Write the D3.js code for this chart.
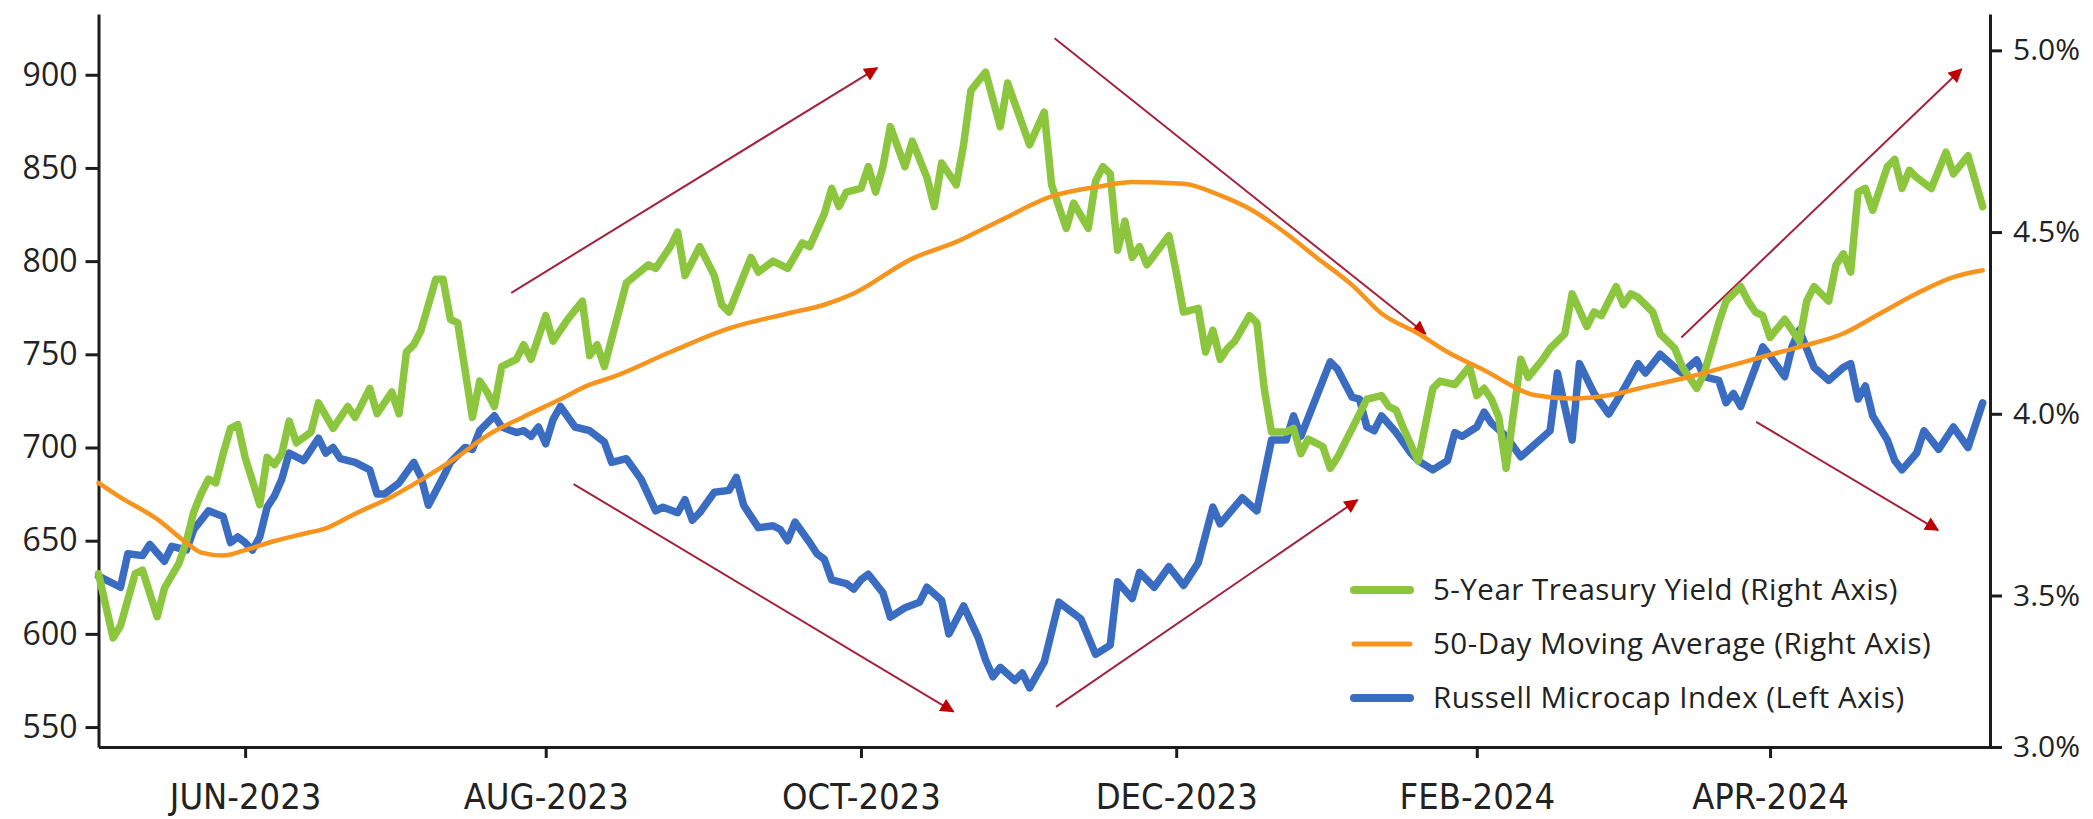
<!DOCTYPE html>
<html>
<head>
<meta charset="utf-8">
<script src="https://cdn.jsdelivr.net/npm/d3@7"></script>
<style>
  html, body { margin: 0; padding: 0; background: #ffffff; }
  svg { display: block; }
</style>
</head>
<body>
<svg id="chart" width="2093" height="819"></svg>
<script>
// ---- Axis ticks -------------------------------------------------------------
// x positions are trading-session numbers (session 0 = early May 2023)
const monthTickDays   = [20, 61, 104, 147, 188, 228];
const monthTickLabels = ["JUN-2023", "AUG-2023", "OCT-2023", "DEC-2023", "FEB-2024", "APR-2024"];
const indexTicks = [550, 600, 650, 700, 750, 800, 850, 900];
const yieldTicks = [3.0, 3.5, 4.0, 4.5, 5.0];

// ---- Series: [trading session, value] --------------------------------------
// Russell Microcap Index level (left axis)
const microcap = [
  [0,631],[3,625],[4,643],[6,642],[7,648],[9,639],[10,647],[12,645],[13,656],[15,666],
  [17,663],[18,649],[19,652],[20,649],[21,645],[22,652],[23,668],[24,674],[25,683],[26,697],
  [28,693],[29,699],[30,705],[31,697],[32,700],[33,694],[35,692],[37,688],[38,675],[39,675],
  [41,681],[43,692],[44,684],[45,669],[47,684],[48,692],[50,700],[51,699],[52,709],[54,717],
  [55,711],[57,708],[58,709],[59,706],[60,711],[61,702],[62,715],[63,722],[65,711],[67,709],
  [69,703],[70,692],[72,694],[74,683],[76,666],[77,668],[79,665],[80,672],[81,661],[82,665],
  [84,676],[86,677],[87,684],[88,669],[90,657],[92,658],[93,656],[94,650],[95,660],[97,649],
  [98,643],[99,640],[100,629],[102,627],[103,624],[104,629],[105,632],[107,622],[108,609],[110,614],
  [112,617],[113,625],[115,618],[116,600],[118,615],[120,598],[121,586],[122,577],[123,582],[125,575],
  [126,579],[127,571],[129,585],[131,617],[134,608],[136,589],[138,594],[139,628],[141,619],[142,633],
  [144,625],[146,636],[148,626],[150,638],[152,668],[153,659],[156,673],[158,666],[160,704],[162,704],
  [163,717],[164,706],[166,726],[168,746],[169,742],[171,727],[172,726],[173,711],[174,709],[175,717],
  [177,708],[179,697],[180,693],[182,688],[184,693],[185,708],[186,706],[188,711],[189,719],[190,713],
  [192,706],[194,695],[196,702],[198,709],[199,740],[201,704],[202,745],[204,729],[206,718],[208,731],
  [210,745],[211,740],[213,750],[215,743],[216,740],[218,747],[219,738],[221,736],[222,724],[223,729],
  [224,722],[226,743],[227,754],[228,749],[230,738],[231,754],[232,763],[234,743],[236,736],[238,743],
  [239,745],[240,726],[241,733],[242,717],[244,704],[245,693],[246,688],[248,697],[249,709],[251,699],
  [253,711],[255,700],[257,724]
];

// 5-Year Treasury yield, % (right axis)
const treasury5y = [
  [0,3.56],[2,3.36],[3,3.40],[5,3.56],[6,3.57],[8,3.43],[9,3.52],[11,3.59],[12,3.65],[13,3.73],
  [14,3.78],[15,3.82],[16,3.81],[17,3.89],[18,3.96],[19,3.97],[20,3.88],[22,3.75],[23,3.88],[24,3.86],
  [25,3.89],[26,3.98],[27,3.92],[29,3.95],[30,4.03],[32,3.96],[34,4.02],[35,3.99],[37,4.07],[38,4.00],
  [40,4.06],[41,4.00],[42,4.17],[43,4.19],[44,4.23],[46,4.37],[47,4.37],[48,4.26],[49,4.25],[51,3.99],
  [52,4.09],[53,4.06],[54,4.02],[55,4.13],[57,4.15],[58,4.19],[59,4.15],[61,4.27],[62,4.20],[63,4.23],
  [64,4.26],[66,4.31],[67,4.16],[68,4.19],[69,4.13],[72,4.36],[75,4.41],[76,4.40],[78,4.46],[79,4.50],
  [80,4.38],[82,4.46],[84,4.38],[85,4.30],[86,4.28],[88,4.38],[89,4.43],[90,4.39],[92,4.42],[94,4.40],
  [96,4.47],[97,4.46],[99,4.55],[100,4.62],[101,4.57],[102,4.61],[104,4.62],[105,4.68],[106,4.61],[107,4.68],
  [108,4.79],[110,4.68],[111,4.75],[113,4.65],[114,4.57],[115,4.69],[117,4.63],[118,4.74],[119,4.89],[121,4.94],
  [123,4.79],[124,4.91],[127,4.74],[129,4.83],[130,4.63],[132,4.51],[133,4.58],[135,4.51],[136,4.64],[137,4.68],
  [138,4.66],[139,4.45],[140,4.53],[141,4.43],[142,4.46],[143,4.41],[146,4.49],[147,4.39],[148,4.28],[150,4.29],
  [151,4.17],[152,4.23],[153,4.15],[154,4.18],[155,4.20],[157,4.27],[158,4.25],[159,4.07],[160,3.95],[162,3.95],
  [163,3.96],[164,3.89],[165,3.93],[167,3.91],[168,3.85],[169,3.88],[171,3.96],[173,4.04],[175,4.05],[176,4.02],
  [177,4.01],[178,3.96],[180,3.87],[182,4.07],[183,4.09],[185,4.08],[187,4.13],[188,4.05],[189,4.07],[190,4.04],
  [191,3.99],[192,3.85],[194,4.15],[195,4.10],[197,4.15],[198,4.18],[200,4.22],[201,4.33],[203,4.24],[204,4.28],
  [205,4.27],[207,4.35],[208,4.30],[209,4.33],[210,4.32],[212,4.28],[213,4.22],[215,4.18],[216,4.13],[218,4.07],
  [219,4.11],[221,4.25],[222,4.31],[224,4.35],[225,4.31],[226,4.28],[227,4.27],[228,4.21],[230,4.26],[231,4.23],
  [232,4.20],[233,4.31],[234,4.35],[235,4.33],[236,4.31],[237,4.41],[238,4.44],[239,4.39],[240,4.61],[241,4.62],
  [242,4.56],[244,4.68],[245,4.70],[246,4.62],[247,4.67],[248,4.65],[250,4.62],[252,4.72],[253,4.66],[255,4.71],
  [256,4.64],[257,4.57]
];

// 50-day moving average of the 5-Year yield, % (right axis)
const movingAvg50 = [
  [0,3.81],[3,3.77],[8,3.71],[12,3.645],[14,3.618],[17,3.61],[20,3.625],[24,3.65],[28,3.67],[31,3.685],
  [35,3.725],[40,3.772],[44,3.818],[49,3.882],[53,3.94],[58,3.992],[63,4.04],[67,4.08],[70,4.10],[78,4.17],
  [86,4.235],[94,4.276],[99,4.30],[103,4.331],[111,4.427],[117,4.473],[123,4.532],[130,4.598],[137,4.627],[141,4.638],
  [148,4.633],[153,4.601],[157,4.564],[162,4.496],[166,4.432],[171,4.354],[175,4.276],[180,4.221],[184,4.17],[189,4.12],
  [196,4.051],[201,4.042],[206,4.051],[211,4.074],[217,4.102],[222,4.129],[227,4.157],[232,4.184],[238,4.221],[243,4.276],
  [248,4.331],[253,4.376],[257,4.395]
];

// Trend arrows: [start session, start level, end session, end level] on the index scale
const trendArrows = [
  [56.3, 783.0, 106.2, 903.6],
  [130.4, 919.6, 181.0, 761.0],
  [64.8, 680.4, 116.6, 558.3],
  [130.6, 560.8, 171.7, 671.8],
  [215.9, 759.0, 254.1, 903.0],
  [226.1, 713.8, 250.9, 655.7]
];

const legendLabels = [
  "5-Year Treasury Yield (Right Axis)",
  "50-Day Moving Average (Right Axis)",
  "Russell Microcap Index (Left Axis)"
];
const seriesColors = { yield: "#8cc63f", avg: "#f7941d", index: "#3a6dc2" };

// ---- Layout -----------------------------------------------------------------
const plot = { x0: 98.5, x1: 1990, y0: 14, y1: 747 };
const axisColor = "#1c1c1c";
const labelFont = "'Open Sans', 'Liberation Sans', Arial, sans-serif";
const dateFont = "'Liberation Sans Narrow', 'DejaVu Sans Condensed', 'Liberation Sans', sans-serif";

const svg = d3.select("#chart");

const x = d3.scaleLinear().domain([0, 258]).range([plot.x0, plot.x1]);
const yIndex = d3.scaleLinear().domain([539.3, 932.6]).range([plot.y1, plot.y0]);
const yYield = d3.scaleLinear().domain([3.0, 3.5, 5.1]).range([plot.y1, 595.5, plot.y0]);

// ---- Axes -------------------------------------------------------------------
function styleAxis(g, font, size) {
  g.attr("font-family", font).attr("font-size", size);
  g.selectAll("path.domain").attr("stroke", axisColor).attr("stroke-width", 3);
  g.selectAll(".tick line").attr("stroke", axisColor).attr("stroke-width", 3);
  g.selectAll(".tick text").attr("fill", "#222222");
}

const leftAxis = svg.append("g")
  .attr("transform", `translate(${plot.x0},0)`)
  .call(d3.axisLeft(yIndex).tickValues(indexTicks).tickSize(13).tickSizeOuter(0).tickPadding(8));
styleAxis(leftAxis, labelFont, 32);

const rightAxis = svg.append("g")
  .attr("transform", `translate(${plot.x1},0)`)
  .call(d3.axisRight(yYield).tickValues(yieldTicks)
    .tickFormat(d => d3.format(".1f")(d) + "%")
    .tickSize(12).tickSizeOuter(0).tickPadding(11));
styleAxis(rightAxis, labelFont, 30);

const bottomAxis = svg.append("g")
  .attr("transform", `translate(0,${plot.y1})`)
  .call(d3.axisBottom(x).tickValues(monthTickDays)
    .tickFormat((d, i) => monthTickLabels[i])
    .tickSize(11).tickSizeOuter(0).tickPadding(25));
styleAxis(bottomAxis, dateFont, 36);

// ---- Trend arrows -----------------------------------------------------------
const defs = svg.append("defs");
defs.append("marker")
  .attr("id", "trend-head")
  .attr("viewBox", "0 0 10 10")
  .attr("refX", 9).attr("refY", 5)
  .attr("markerWidth", 17).attr("markerHeight", 14)
  .attr("markerUnits", "userSpaceOnUse")
  .attr("orient", "auto")
  .append("path")
  .attr("d", "M0,0 L10,5 L0,10 Z")
  .attr("fill", "#c00000");

svg.append("g").attr("class", "trend-arrows")
  .selectAll("line")
  .data(trendArrows)
  .join("line")
  .attr("x1", d => x(d[0])).attr("y1", d => yIndex(d[1]))
  .attr("x2", d => x(d[2])).attr("y2", d => yIndex(d[3]))
  .attr("stroke", "#a3233d")
  .attr("stroke-width", 2)
  .attr("marker-end", "url(#trend-head)");

// ---- Lines ------------------------------------------------------------------
const indexLine = d3.line().x(d => x(d[0])).y(d => yIndex(d[1]));
const yieldLine = d3.line().x(d => x(d[0])).y(d => yYield(d[1]));
const avgLine = d3.line().x(d => x(d[0])).y(d => yYield(d[1])).curve(d3.curveMonotoneX);

svg.append("path").datum(microcap)
  .attr("d", indexLine)
  .attr("fill", "none").attr("stroke", seriesColors.index)
  .attr("stroke-width", 7.5).attr("stroke-linejoin", "round").attr("stroke-linecap", "round");

svg.append("path").datum(treasury5y)
  .attr("d", yieldLine)
  .attr("fill", "none").attr("stroke", seriesColors.yield)
  .attr("stroke-width", 7.5).attr("stroke-linejoin", "round").attr("stroke-linecap", "round");

svg.append("path").datum(movingAvg50)
  .attr("d", avgLine)
  .attr("fill", "none").attr("stroke", seriesColors.avg)
  .attr("stroke-width", 4.5).attr("stroke-linecap", "round");

// ---- Legend -----------------------------------------------------------------
const legendItems = [
  { label: legendLabels[0], color: seriesColors.yield, width: 8 },
  { label: legendLabels[1], color: seriesColors.avg, width: 5 },
  { label: legendLabels[2], color: seriesColors.index, width: 8 }
];
const legend = svg.append("g").attr("transform", "translate(1350,590)");
const rows = legend.selectAll("g").data(legendItems).join("g")
  .attr("transform", (d, i) => `translate(0,${i * 54})`);
rows.append("line")
  .attr("x1", 4).attr("x2", 60).attr("y1", 0).attr("y2", 0)
  .attr("stroke", d => d.color).attr("stroke-width", d => d.width)
  .attr("stroke-linecap", "round");
rows.append("text")
  .attr("x", 83).attr("y", 0).attr("dy", "0.35em")
  .attr("font-family", labelFont).attr("font-size", 29.5)
  .attr("letter-spacing", 0.5)
  .attr("fill", "#222222")
  .text(d => d.label);
</script>
</body>
</html>
